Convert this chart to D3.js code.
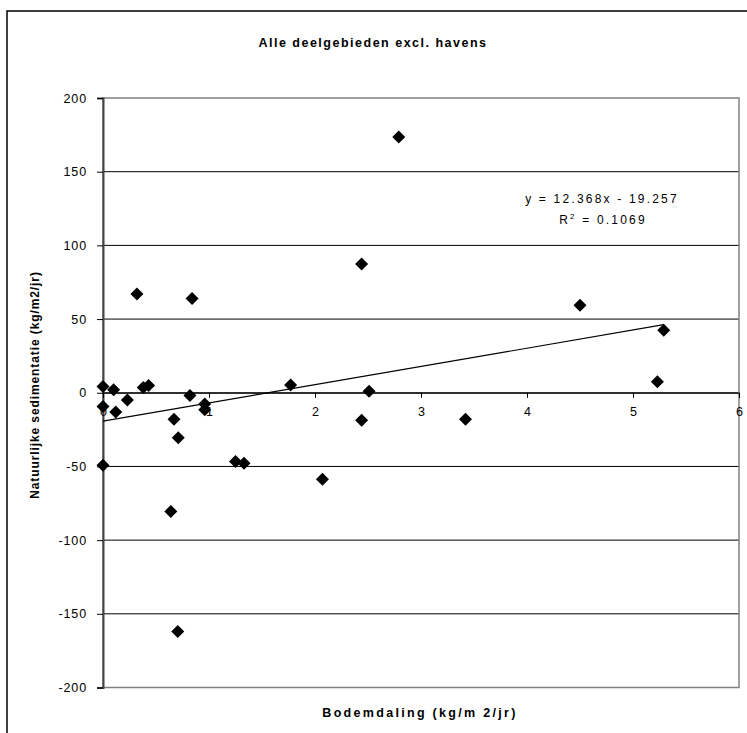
<!DOCTYPE html>
<html><head><meta charset="utf-8">
<script src="https://cdn.jsdelivr.net/npm/d3@7/dist/d3.min.js"></script>
<style>body{margin:0;background:#fff}svg{display:block;font-family:"Liberation Sans",Arial,sans-serif}</style>
</head><body>
<script>
const bodemdaling = [0,0,0,0.10,0.12,0.23,0.32,0.38,0.43,0.64,0.67,0.705,0.71,0.82,0.84,0.96,0.96,1.25,1.33,1.77,2.07,2.44,2.44,2.51,2.79,3.42,4.50,5.23,5.29];
const sedimentatie = [4.3,-9.3,-49.2,2,-13,-5,67,3.5,5,-80.5,-18,-162,-30.6,-1.8,64,-7.7,-11.6,-46.7,-47.8,5.2,-58.7,87.3,-18.6,1.1,173.5,-17.9,59.4,7.5,42.4];
const xTicks = [0,1,2,3,4,5,6];
const yTicks = [-200,-150,-100,-50,0,50,100,150,200];
const trend = {slope:12.368, intercept:-19.257, r2:0.1069};
const title = "Alle deelgebieden excl. havens";
const xTitle = "Bodemdaling (kg/m 2/jr)";
const yTitle = "Natuurlijke sedimentatie (kg/m2/jr)";

const W=747,H=733;
const svg=d3.select("body").append("svg").attr("width",W).attr("height",H);
svg.append("rect").attr("x",7).attr("y",11).attr("width",W+10).attr("height",H+10).attr("fill","#fff").attr("stroke","#000").attr("stroke-width",1.5);

const L=103,R=739,T=98,B=687.5;
const x=d3.scaleLinear().domain([0,6]).range([L,R]);
const y=d3.scaleLinear().domain([-200,200]).range([B,T]);

// gridlines
svg.append("g").selectAll("line").data(yTicks.filter(v=>v>-200&&v<200)).join("line")
  .attr("x1",L).attr("x2",R).attr("y1",d=>y(d)).attr("y2",d=>y(d)).attr("stroke","#000").attr("stroke-width",1);
// plot border
svg.append("rect").attr("x",L).attr("y",T).attr("width",R-L).attr("height",B-T).attr("fill","none").attr("stroke","#808080").attr("stroke-width",1.5);

// y axis
const yAx=svg.append("g").attr("transform",`translate(${L},0)`).call(d3.axisLeft(y).tickValues(yTicks).tickSize(6).tickPadding(10).tickFormat(d=>String(d)));
yAx.select(".domain").attr("stroke","#444").attr("stroke-width",2);
yAx.selectAll(".tick line").attr("stroke","#000");
yAx.selectAll("text").attr("font-size",12.5).attr("fill","#000").style("letter-spacing","0.9px");
// x axis at y=0
const xAx=svg.append("g").attr("transform",`translate(0,${y(0)})`).call(d3.axisBottom(x).tickValues(xTicks).tickSize(5).tickPadding(9).tickFormat(d=>String(d)));
xAx.select(".domain").attr("stroke","#000").attr("stroke-width",1);
xAx.selectAll(".tick line").attr("stroke","#000");
xAx.selectAll("text").attr("font-size",12.5).attr("fill","#000");

// trendline
const xmin=d3.min(bodemdaling), xmax=d3.max(bodemdaling);
svg.append("line").attr("x1",x(xmin)).attr("y1",y(trend.slope*xmin+trend.intercept))
  .attr("x2",x(xmax)).attr("y2",y(trend.slope*xmax+trend.intercept)).attr("stroke","#000").attr("stroke-width",1.2);

// points
const pts=bodemdaling.map((v,i)=>[v,sedimentatie[i]]);
svg.append("g").selectAll("path").data(pts).join("path")
  .attr("d","M0,-6.5L6.5,0L0,6.5L-6.5,0Z").attr("fill","#000")
  .attr("transform",d=>`translate(${x(d[0])},${y(d[1])})`);

// equation
const eq=svg.append("text").attr("x",602).attr("y",203).attr("text-anchor","middle").attr("font-size",12).style("letter-spacing","2.2px").text(`y = ${trend.slope}x - ${Math.abs(trend.intercept)}`);
const r2=svg.append("text").attr("x",603).attr("y",224).attr("text-anchor","middle").attr("font-size",12).style("letter-spacing","2.2px");
r2.append("tspan").text("R");
r2.append("tspan").attr("dy",-5).attr("font-size",8).text("2");
r2.append("tspan").attr("dy",5).text(` = ${trend.r2}`);

// titles
svg.append("text").attr("x",373).attr("y",47).attr("text-anchor","middle").attr("font-size",12.5).attr("font-weight","bold").style("letter-spacing","1.5px").text(title);
svg.append("text").attr("x",420).attr("y",717).attr("text-anchor","middle").attr("font-size",12.5).attr("font-weight","bold").style("letter-spacing","2.3px").text(xTitle);
svg.append("text").attr("transform",`translate(39,385) rotate(-90)`).attr("text-anchor","middle").attr("font-size",12).attr("font-weight","bold").style("letter-spacing","0.9px").text(yTitle);
</script>
</body></html>
